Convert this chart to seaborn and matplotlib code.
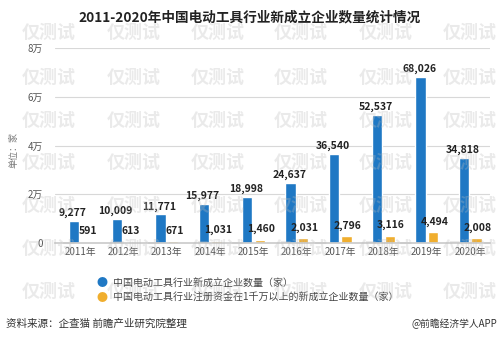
import matplotlib
matplotlib.use("Agg")
import matplotlib.pyplot as plt
import seaborn as sns
import pandas as pd

years = ["2011年", "2012年", "2013年", "2014年", "2015年", "2016年", "2017年", "2018年", "2019年", "2020年"]
new_firms = [9277, 10009, 11771, 15977, 18998, 24637, 36540, 52537, 68026, 34818]
big_firms = [591, 613, 671, 1031, 1460, 2031, 2796, 3116, 4494, 2008]
series_names = ["中国电动工具行业新成立企业数量（家）",
                "中国电动工具行业注册资金在1千万以上的新成立企业数量（家）"]
yticks = [0, 20000, 40000, 60000, 80000]
ytick_labels = ["0", "2万", "4万", "6万", "8万"]
watermark = "仅测试"

sns.set_theme(style="white")
plt.rcParams['font.family'] = ['Noto Sans CJK SC', 'DejaVu Sans']

blue = "#1f78c4"
orange = "#f0ae2e"

df = pd.DataFrame({
    "year": years * 2,
    "value": new_firms + big_firms,
    "series": [series_names[0]] * len(years) + [series_names[1]] * len(years),
})

fig = plt.figure(figsize=(5.0, 3.41), dpi=100)
ax = fig.add_axes([0.11, 0.287, 0.87, 0.572])

sns.barplot(data=df, x="year", y="value", hue="series", order=years,
            hue_order=series_names, palette=[blue, orange],
            width=0.58, gap=0.18, ax=ax, legend=False, saturation=1)

ax.set_ylim(0, 80000)
ax.set_xlim(-0.58, 9.46)
ax.set_yticks(yticks)
ax.set_yticklabels(ytick_labels, fontsize=7, color="#555555")
ax.tick_params(axis="x", labelsize=7, colors="#555555", length=0, pad=3)
ax.tick_params(axis="y", length=0, pad=9)
ax.yaxis.grid(True, color="#d8d8d8", linewidth=0.8)
for s in ["top", "right", "left"]:
    ax.spines[s].set_visible(False)
ax.spines["bottom"].set_color("#cccccc")
ax.set_xlabel("")
ax.set_ylabel("单位：家", fontsize=6.5, color="#777777", labelpad=8)
ax.yaxis.set_label_coords(-0.085, 0.48)

# value labels
containers = ax.containers
for bar, v in zip(containers[0], new_firms):
    ax.annotate(f"{v:,}", (bar.get_x() + bar.get_width() / 2, bar.get_height()),
                xytext=(-1, 2), textcoords="offset points", ha="center", va="bottom",
                fontsize=7.5, fontweight="bold", color="#222222")
for bar, v in zip(containers[1], big_firms):
    ax.annotate(f"{v:,}", (bar.get_x() + bar.get_width() / 2, bar.get_height()),
                xytext=(1, 4), textcoords="offset points", ha="center", va="bottom",
                fontsize=7.5, fontweight="bold", color="#222222")

fig.text(0.5, 0.95, "2011-2020年中国电动工具行业新成立企业数量统计情况",
         ha="center", va="center", fontsize=9.8, fontweight="bold", color="#222222")

# legend
for i, (name, col) in enumerate(zip(series_names, [blue, orange])):
    y = 1 - (283 + i * 15) / 341
    fig.text(0.205, y, "●", color=col, fontsize=8, ha="center", va="center")
    fig.text(0.225, y, name, color="#444444", fontsize=7.2, ha="left", va="center")

fig.text(0.012, 1 - 324 / 341, "资料来源：企查猫 前瞻产业研究院整理", fontsize=7.6,
         color="#333333", ha="left", va="center")
fig.text(0.995, 1 - 324 / 341, "@前瞻经济学人APP", fontsize=7,
         color="#333333", ha="right", va="center")

# faint watermark
for ry in [32, 77, 120, 162, 205, 248, 291]:
    for cx in [49, 134, 218, 301, 386, 470]:
        fig.text(cx / 500, 1 - ry / 341, watermark, fontsize=13, fontweight="bold",
                 color="#bbbbbb", alpha=0.3, ha="center", va="center", zorder=10)

fig.savefig("out.png", dpi=100)
